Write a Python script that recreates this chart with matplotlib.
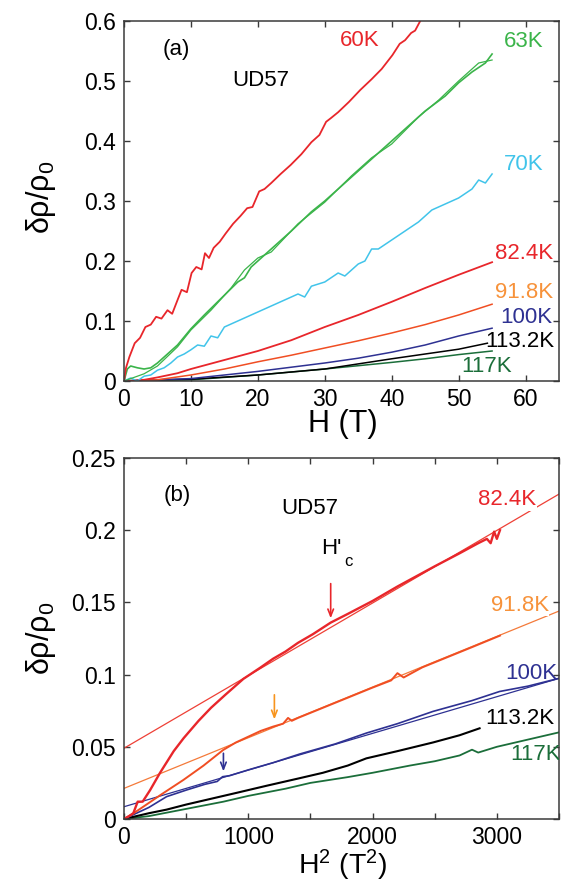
import matplotlib
matplotlib.use("Agg")
import matplotlib.pyplot as plt

plt.rcParams['font.family'] = ['Liberation Sans', 'DejaVu Sans']
plt.rcParams['mathtext.fontset'] = 'custom'
plt.rcParams['mathtext.rm'] = 'Liberation Sans'
plt.rcParams['mathtext.it'] = 'Liberation Sans:italic'

# colours
RED = '#e8262b'
GREEN = '#3bb44a'
CYAN = '#41c4ea'
ORANGE = '#f04e23'
ORANGE_LBL = '#f7923a'
NAVY = '#2e3192'
DKGREEN = '#1b6e3a'

# ---- (a) magnetoresistance vs H ----
h60 = [0, 0.3, 0.8, 1.6, 2.4, 3.2, 4.0, 4.8, 5.6, 6.5, 7.2, 8.0, 8.6, 9.4, 10.1, 10.8, 11.6, 12.1,
       12.7, 13.4, 14.3, 15.2, 16.3, 17.4, 18.4, 19.2, 20.2, 21.0, 22.0, 23.4, 24.9, 26.5, 28.0,
       29.2, 30.2, 30.9, 32.0, 33.6, 35.3, 37.0, 38.5, 40.1, 41.2, 42.0, 42.9, 43.5, 44.5]
r60 = [0, 0.022, 0.04, 0.063, 0.072, 0.09, 0.094, 0.107, 0.104, 0.118, 0.112, 0.135, 0.152, 0.148,
       0.18, 0.19, 0.186, 0.213, 0.205, 0.222, 0.232, 0.246, 0.262, 0.275, 0.288, 0.29, 0.316, 0.32,
       0.33, 0.345, 0.36, 0.378, 0.398, 0.41, 0.432, 0.438, 0.448, 0.465, 0.485, 0.503, 0.52, 0.543,
       0.562, 0.568, 0.58, 0.584, 0.605]

h63a = [0, 0.5, 1, 2, 3, 4, 5, 6, 7, 8, 10, 12, 15, 17, 18, 19, 20, 22, 25, 28, 30, 33, 35, 38, 40,
        42, 45, 48, 50, 52, 54, 55]
r63a = [0, 0.02, 0.025, 0.022, 0.02, 0.022, 0.03, 0.04, 0.05, 0.06, 0.087, 0.11, 0.143, 0.165, 0.172,
        0.19, 0.2, 0.22, 0.25, 0.282, 0.3, 0.33, 0.35, 0.38, 0.4, 0.42, 0.45, 0.475, 0.497, 0.515,
        0.53, 0.545]
h63b = [0, 1, 2, 3, 5, 8, 10, 13, 16, 18, 20, 22, 26, 30, 34, 37, 40, 44, 47, 50, 53, 55]
r63b = [0, 0.004, 0.008, 0.012, 0.025, 0.057, 0.085, 0.118, 0.155, 0.185, 0.205, 0.215, 0.262, 0.298,
        0.342, 0.372, 0.395, 0.44, 0.468, 0.5, 0.53, 0.535]

h70 = [0, 1, 2, 3, 4, 5, 6, 7, 8, 9, 10, 11, 12, 13, 14, 15, 17, 18, 20, 22, 24, 26, 27, 28, 30, 32,
       33, 35, 36, 37, 38, 40, 42, 44, 46, 48, 50, 52, 53, 54, 55]
r70 = [0, 0.005, 0.0, 0.008, 0.01, 0.018, 0.022, 0.03, 0.04, 0.045, 0.052, 0.06, 0.058, 0.075, 0.072,
       0.09, 0.1, 0.105, 0.115, 0.125, 0.135, 0.145, 0.14, 0.158, 0.165, 0.18, 0.175, 0.195, 0.2,
       0.22, 0.22, 0.235, 0.25, 0.265, 0.285, 0.295, 0.305, 0.32, 0.335, 0.33, 0.345]

h824 = [0, 3, 5, 8, 10, 12, 15, 18, 20, 25, 30, 35, 40, 45, 50, 55]
r824 = [0, 0.002, 0.006, 0.013, 0.02, 0.026, 0.035, 0.044, 0.05, 0.068, 0.09, 0.11, 0.132, 0.155,
        0.177, 0.198]

h918 = [0, 5, 10, 15, 20, 25, 30, 35, 40, 45, 50, 55]
r918 = [0, 0.002, 0.01, 0.02, 0.032, 0.043, 0.055, 0.067, 0.08, 0.094, 0.11, 0.128]

h100 = [0, 10, 15, 20, 25, 30, 35, 40, 45, 50, 55]
r100 = [0, 0.004, 0.01, 0.016, 0.023, 0.03, 0.038, 0.048, 0.06, 0.075, 0.088]

h113 = [0, 10, 20, 30, 40, 45, 50, 54.3]
r113 = [0, 0.003, 0.01, 0.02, 0.037, 0.045, 0.053, 0.063]

h117 = [0, 10, 20, 30, 40, 45, 50, 55]
r117 = [0, 0.002, 0.01, 0.02, 0.031, 0.037, 0.044, 0.05]

# ---- (b) same data vs H^2, with linear fits ----
b824_x = [0, 40, 75, 110, 150, 210, 290, 400, 480, 600, 700, 815, 960, 1100, 1200, 1300, 1400, 1520,
          1663, 1800, 2000, 2200, 2350, 2500, 2700, 2850, 2920, 2950, 2978, 3000, 3025]
b824_y = [0, 0.002, 0.004, 0.012, 0.012, 0.02, 0.032, 0.047, 0.056, 0.068, 0.077, 0.086, 0.097, 0.105,
          0.111, 0.116, 0.122, 0.128, 0.136, 0.142, 0.151, 0.161, 0.168, 0.175, 0.184, 0.191, 0.194,
          0.191, 0.199, 0.194, 0.2]
b918_x = [0, 60, 155, 300, 477, 640, 798, 900, 1000, 1100, 1200, 1280, 1320, 1350, 1400, 1600, 1800,
          2000, 2150, 2200, 2250, 2400, 2600, 2800, 3025]
b918_y = [0, 0.003, 0.0085, 0.017, 0.027, 0.037, 0.0478, 0.053, 0.057, 0.061, 0.064, 0.066, 0.07,
          0.068, 0.07, 0.077, 0.084, 0.091, 0.096, 0.101, 0.098, 0.105, 0.112, 0.119, 0.127]
b100_x = [0, 100, 200, 343, 500, 650, 750, 793, 850, 1000, 1200, 1414, 1700, 1950, 2200, 2486, 2800,
          3022, 3250, 3500]
b100_y = [0, 0.004, 0.008, 0.0155, 0.02, 0.024, 0.026, 0.0293, 0.03, 0.034, 0.039, 0.045, 0.052,
          0.0595, 0.066, 0.0745, 0.082, 0.0883, 0.092, 0.0974]
b113_x = [0, 100, 200, 343, 500, 700, 900, 1146, 1400, 1600, 1800, 1950, 2200, 2486, 2700, 2861]
b113_y = [0, 0.002, 0.004, 0.0065, 0.01, 0.014, 0.018, 0.023, 0.028, 0.032, 0.037, 0.042, 0.047,
          0.053, 0.058, 0.0628]
b117_x = [0, 200, 500, 800, 1000, 1300, 1500, 1800, 2000, 2300, 2500, 2700, 2800, 2850, 3000, 3200, 3500]
b117_y = [0, 0.002, 0.007, 0.012, 0.016, 0.021, 0.025, 0.029, 0.032, 0.037, 0.04, 0.044, 0.048, 0.046,
          0.05, 0.054, 0.06]

fit_x = [0, 3500]
fit824 = [0.049, 0.225]
fit918 = [0.0212, 0.144]
fit100 = [0.0085, 0.0974]

# H'c positions (H^2, top, tip)
hc824 = (1663, 0.163, 0.139)
hc918 = (1210, 0.086, 0.069)
hc100 = (800, 0.0455, 0.033)


def style_axes(ax):
    for s in ax.spines.values():
        s.set_linewidth(1.1)
        s.set_color('#3a3a3a')
    ax.tick_params(direction='in', top=True, right=True, length=4.5, width=1.0,
                   color='#3a3a3a', labelsize=16.5)
    ax.tick_params(axis='x', pad=5)
    ax.tick_params(axis='y', pad=6)


fig = plt.figure(figsize=(5.67, 8.84), dpi=100)
axA = fig.add_axes([124 / 567, 1 - 381 / 884, 435 / 567, 360 / 884])
axB = fig.add_axes([124 / 567, 1 - 819 / 884, 435 / 567, 361 / 884])

# panel a
axA.plot(h117, r117, color=DKGREEN, lw=1.1)
axA.plot(h113, r113, color='black', lw=1.1)
axA.plot(h100, r100, color=NAVY, lw=1.1)
axA.plot(h918, r918, color=ORANGE, lw=1.1)
axA.plot(h824, r824, color=RED, lw=1.3)
axA.plot(h70, r70, color=CYAN, lw=1.1)
axA.plot(h63b, r63b, color=GREEN, lw=0.9)
axA.plot(h63a, r63a, color=GREEN, lw=1.2)
axA.plot(h60, r60, color=RED, lw=1.3)

axA.set_xlim(0, 65)
axA.set_ylim(0, 0.6)
axA.set_xticks([0, 10, 20, 30, 40, 50, 60])
axA.set_yticks([0, 0.1, 0.2, 0.3, 0.4, 0.5, 0.6])
axA.set_yticklabels(['0', '0.1', '0.2', '0.3', '0.4', '0.5', '0.6'])
style_axes(axA)
axA.set_xlabel('H (T)', fontsize=22)
axA.xaxis.set_label_coords(0.503, -0.079)
axA.set_ylabel(r'δρ/ρ$_\mathrm{0}$', fontsize=22)
axA.yaxis.set_label_coords(-0.152, 0.51)

lbl = dict(fontsize=16, ha='left', va='center')
axA.text(32.3, 0.568, '60K', color=RED, **lbl)
axA.text(56.8, 0.566, '63K', color=GREEN, **lbl)
axA.text(56.7, 0.36, '70K', color=CYAN, **lbl)
axA.text(55.4, 0.213, '82.4K', color=RED, **lbl)
axA.text(55.4, 0.147, '91.8K', color=ORANGE_LBL, **lbl)
axA.text(56.2, 0.106, '100K', color=NAVY, **lbl)
axA.text(54.0, 0.066, '113.2K', color='black', **lbl)
axA.text(50.4, 0.024, '117K', color=DKGREEN, **lbl)
axA.text(5.8, 0.552, '(a)', color='black', **lbl)
axA.text(16.2, 0.50, 'UD57', color='black', **lbl)

# panel b
axB.plot(fit_x, fit824, color='#ee4036', lw=0.9)
axB.plot(fit_x, fit918, color='#f47a3a', lw=0.9)
axB.plot(fit_x, fit100, color=NAVY, lw=0.9)
axB.plot(b117_x, b117_y, color=DKGREEN, lw=1.3)
axB.plot(b113_x, b113_y, color='black', lw=1.5)
axB.plot(b100_x, b100_y, color=NAVY, lw=1.2)
axB.plot(b918_x, b918_y, color=ORANGE, lw=1.4)
axB.plot(b824_x, b824_y, color=RED, lw=1.7)

for (x, y0, y1), c in [(hc824, RED), (hc918, '#f7941d'), (hc100, NAVY)]:
    axB.annotate('', xy=(x, y1), xytext=(x, y0),
                 arrowprops=dict(arrowstyle='->,head_length=0.5,head_width=0.2', color=c, lw=1.2,
                                 shrinkA=0, shrinkB=0))

axB.set_xlim(0, 3500)
axB.set_ylim(0, 0.25)
axB.set_xticks([0, 500, 1000, 1500, 2000, 2500, 3000, 3500])
axB.set_xticklabels(['0', '', '1000', '', '2000', '', '3000', ''])
axB.set_yticks([0, 0.05, 0.1, 0.15, 0.2, 0.25])
axB.set_yticklabels(['0', '0.05', '0.1', '0.15', '0.2', '0.25'])
style_axes(axB)
axB.set_xlabel(r'H$^\mathrm{2}$ (T$^\mathrm{2}$)', fontsize=20.5)
axB.xaxis.set_label_coords(0.503, -0.081)
axB.set_ylabel(r'δρ/ρ$_\mathrm{0}$', fontsize=22)
axB.yaxis.set_label_coords(-0.152, 0.5)

wbox = dict(facecolor='white', edgecolor='none', pad=0.5)
axB.text(2847, 0.221, '82.4K', color=RED, bbox=wbox, **lbl)
axB.text(2949, 0.148, '91.8K', color=ORANGE_LBL, bbox=wbox, **lbl)
axB.text(3066, 0.101, '100K', color=NAVY, clip_on=True, **lbl)
axB.text(2905, 0.0697, '113.2K', color='black', **lbl)
axB.text(3110, 0.045, '117K', color=DKGREEN, clip_on=True, **lbl)
axB.text(318, 0.224, '(b)', color='black', **lbl)
axB.text(1268, 0.215, 'UD57', color='black', **lbl)
axB.text(1590, 0.187, "H'", color='black', **lbl)
axB.text(1775, 0.178, 'c', color='black', fontsize=12, ha='left', va='center')

fig.savefig('out.png', dpi=100)
